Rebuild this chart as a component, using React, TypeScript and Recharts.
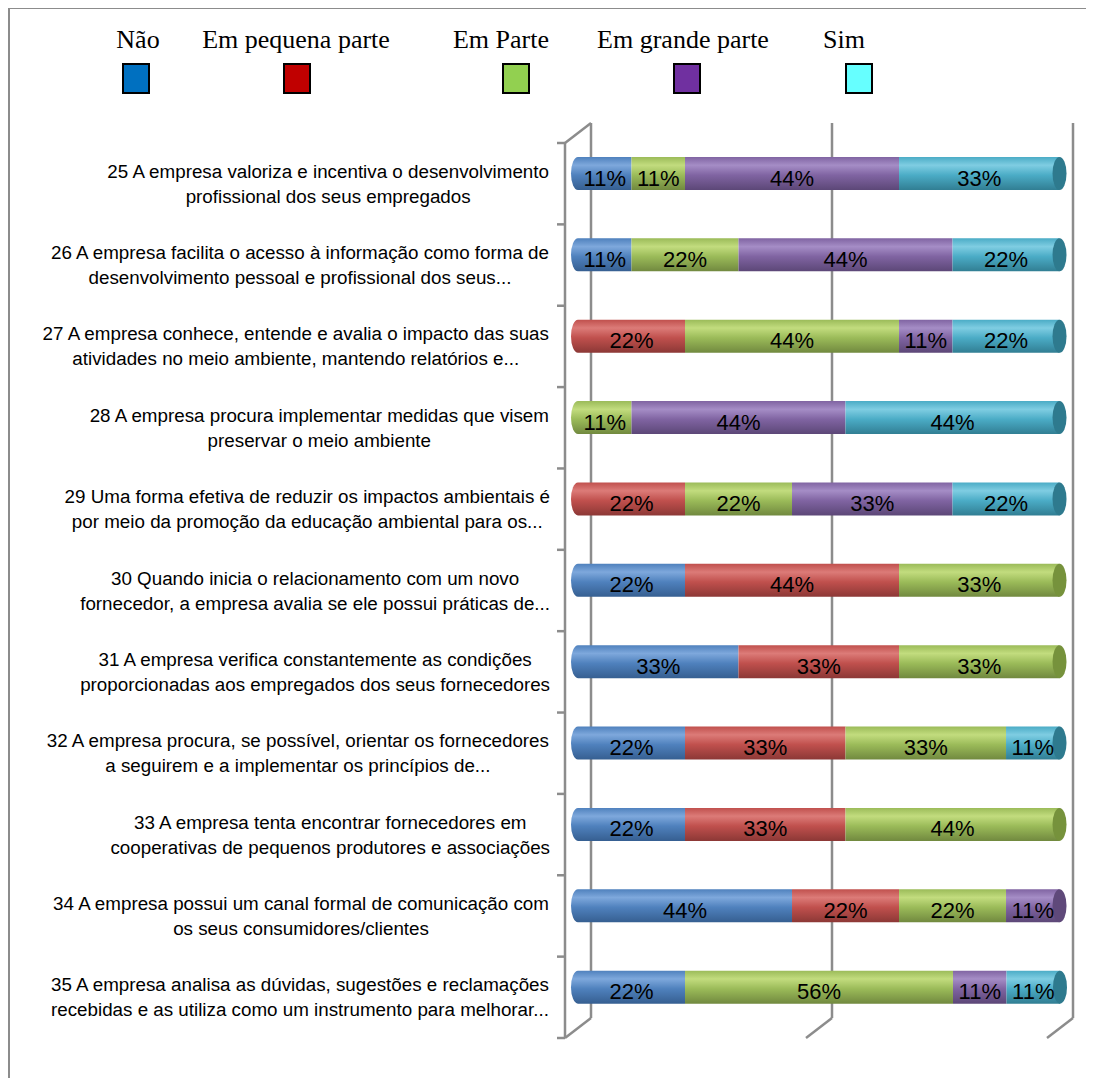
import React from "react";
import { BarChart, Bar, XAxis, YAxis, LabelList, Customized } from "recharts";

// Survey items (two lines each, as printed in the chart)
const CATEGORIES = [
  "25 A empresa valoriza e incentiva o desenvolvimento\nprofissional dos seus empregados",
  "26 A empresa facilita o acesso à informação como forma de\ndesenvolvimento pessoal e profissional dos seus...",
  "27 A empresa conhece, entende e avalia o impacto das suas\natividades no meio ambiente, mantendo relatórios e...",
  "28 A empresa procura implementar medidas que visem\npreservar o meio ambiente",
  "29 Uma forma efetiva de reduzir os impactos ambientais é\npor meio da promoção da educação ambiental para os...",
  "30 Quando inicia o relacionamento com um novo\nfornecedor, a empresa avalia se ele possui práticas de...",
  "31 A empresa verifica constantemente as condições\nproporcionadas aos empregados dos seus fornecedores",
  "32 A empresa procura, se possível, orientar os fornecedores\na seguirem e a implementar os princípios de...",
  "33 A empresa tenta encontrar fornecedores em\ncooperativas de pequenos produtores e associações",
  "34 A empresa possui um canal formal de comunicação com\nos seus consumidores/clientes",
  "35 A empresa analisa as dúvidas, sugestões e reclamações\nrecebidas e as utiliza como um instrumento para melhorar...",
];

// percentages per answer
const NAO = [11.1, 11.1, 0, 0, 0, 22.2, 33.3, 22.2, 22.2, 44.4, 22.2];
const PEQUENA = [0, 0, 22.2, 0, 22.2, 44.4, 33.3, 33.3, 33.3, 22.2, 0];
const PARTE = [11.1, 22.2, 44.4, 11.1, 22.2, 33.3, 33.3, 33.3, 44.4, 22.2, 55.6];
const GRANDE = [44.4, 44.4, 11.1, 44.4, 33.3, 0, 0, 0, 0, 11.1, 11.1];
const SIM = [33.3, 22.2, 22.2, 44.4, 22.2, 0, 0, 11.1, 0, 0, 11.1];

const GRID_TICKS = [0, 50, 100];

const SERIES = [
  { key: "nao", name: "Não", values: NAO, light: "#7ea8dc", base: "#4f81bd", dark: "#365f91", cap: "#385d8a", legend: "#0070c0" },
  { key: "pequena", name: "Em pequena parte", values: PEQUENA, light: "#dc7b78", base: "#c0504d", dark: "#8c3836", cap: "#8c3836", legend: "#c00000" },
  { key: "parte", name: "Em Parte", values: PARTE, light: "#c2dc7e", base: "#9bbb59", dark: "#71893f", cap: "#76923c", legend: "#92d050" },
  { key: "grande", name: "Em grande parte", values: GRANDE, light: "#a58dc6", base: "#8064a2", dark: "#5c4777", cap: "#5f497a", legend: "#7030a0" },
  { key: "sim", name: "Sim", values: SIM, light: "#7fcde2", base: "#4bacc6", dark: "#317e93", cap: "#2e7a8e", legend: "#66ffff" },
];

const data = CATEGORIES.map((name, i) => {
  const row: Record<string, any> = { name };
  SERIES.forEach((s) => {
    row[s.key] = s.values[i];
  });
  return row;
});

// layout
const W = 1078;
const H = 1070;
const MARGIN = { top: 125, right: 26, bottom: 50, left: 10 };
const YAXIS_W = 560;
const PLOT_L = MARGIN.left + YAXIS_W;
const PLOT_W = W - PLOT_L - MARGIN.right;
const PLOT_T = MARGIN.top;
const PLOT_H = H - MARGIN.top - MARGIN.bottom;
const DX = 13; // 3d depth
const DY = 10;
const LINE = "#8c8c8c";

// legend placement (text center / box left)
const LEGEND_POS = [
  { text: 130, box: 114 },
  { text: 288, box: 275 },
  { text: 493, box: 494 },
  { text: 675, box: 665 },
  { text: 836, box: 837 },
];

let ctx: CanvasRenderingContext2D | null = null;
function textWidth(s: string, font: string) {
  if (!ctx) ctx = document.createElement("canvas").getContext("2d");
  if (!ctx) return s.length * 9;
  ctx.font = font;
  return ctx.measureText(s).width;
}

const CAT_FONT = "18.8px 'Liberation Sans', Arial, sans-serif";

function CatTick(props: any) {
  const { y, payload } = props;
  const lines: string[] = String(payload.value).split("\n");
  const maxW = Math.max(...lines.map((l) => textWidth(l, CAT_FONT)));
  const right = 542;
  const cx = right - maxW / 2;
  const yc = y + DY;
  return (
    <g>
      {lines.map((l, i) => (
        <text
          key={i}
          x={cx}
          y={yc - 6 + i * 25}
          textAnchor="middle"
          style={{ font: CAT_FONT }}
          fill="#000"
        >
          {l}
        </text>
      ))}
    </g>
  );
}

function makeShape(idx: number) {
  const s = SERIES[idx];
  return (props: any) => {
    const { x, y, width, height, payload } = props;
    if (!width || width <= 0) return null;
    const first = SERIES.slice(0, idx).every((o) => !payload[o.key]);
    const last = SERIES.slice(idx + 1).every((o) => !payload[o.key]);
    const rx = 7;
    const ry = height / 2;
    const d = first
      ? `M${x},${y} L${x + width},${y} L${x + width},${y + height} L${x},${y + height} A${rx},${ry} 0 0 1 ${x},${y} Z`
      : `M${x},${y} L${x + width},${y} L${x + width},${y + height} L${x},${y + height} Z`;
    return (
      <g>
        <path d={d} fill={`url(#grad-${s.key})`} />
        {last && (
          <ellipse cx={x + width} cy={y + ry} rx={rx} ry={ry} fill={s.cap} />
        )}
      </g>
    );
  };
}

function renderLabel(props: any) {
  const { x, y, width, height, value } = props;
  if (!value) return null;
  return (
    <text
      x={x + width / 2}
      y={y + height / 2 + 12}
      textAnchor="middle"
      style={{ font: "22px 'Liberation Sans', Arial, sans-serif" }}
      fill="#000"
    >
      {Math.round(value)}%
    </text>
  );
}

function FrameLines() {
  const band = PLOT_H / CATEGORIES.length;
  const bottom = PLOT_T + PLOT_H;
  return (
    <g stroke={LINE} strokeWidth={2.5} fill="none">
      {/* back wall gridlines */}
      {GRID_TICKS.map((t) => {
        const gx = PLOT_L + (t / 100) * PLOT_W + DX;
        return (
          <g key={t}>
            <line x1={gx} y1={PLOT_T - DY} x2={gx} y2={bottom - DY} />
            <line x1={gx} y1={bottom - DY} x2={gx - 2 * DX} y2={bottom + DY} />
          </g>
        );
      })}
      {/* front category axis */}
      <line x1={PLOT_L - DX} y1={PLOT_T + DY} x2={PLOT_L - DX} y2={bottom + DY} />
      <line x1={PLOT_L - DX} y1={PLOT_T + DY} x2={PLOT_L + DX} y2={PLOT_T - DY} />
      {CATEGORIES.map((_, i) => (
        <line
          key={i}
          x1={PLOT_L - DX - 8}
          y1={PLOT_T + DY + i * band}
          x2={PLOT_L - DX}
          y2={PLOT_T + DY + i * band}
        />
      ))}
      <line x1={PLOT_L - DX - 8} y1={bottom + DY} x2={PLOT_L - DX} y2={bottom + DY} />
    </g>
  );
}

export default function App() {
  return (
    <div style={{ position: "relative", width: W, height: H, background: "#fff" }}>
      {/* outer frame */}
      <div style={{ position: "absolute", left: -1, top: -1, width: 3, height: H + 9, background: LINE }} />
      <div style={{ position: "absolute", left: -1, top: -1, width: W + 9, height: 2, background: LINE }} />

      {/* legend */}
      {SERIES.map((s, i) => (
        <React.Fragment key={s.key}>
          <div
            style={{
              position: "absolute",
              left: LEGEND_POS[i].text - 150,
              width: 300,
              top: 17,
              textAlign: "center",
              fontFamily: "'Liberation Serif', 'Times New Roman', serif",
              fontSize: 26,
              lineHeight: "30px",
              color: "#000",
            }}
          >
            {s.name}
          </div>
          <div
            style={{
              position: "absolute",
              left: LEGEND_POS[i].box,
              top: 55,
              width: 24,
              height: 27,
              background: s.legend,
              border: "2px solid #000",
            }}
          />
        </React.Fragment>
      ))}

      <BarChart
        width={W}
        height={H}
        data={data}
        layout="vertical"
        margin={MARGIN}
        barSize={33}
      >
        <defs>
          {SERIES.map((s) => (
            <linearGradient key={s.key} id={`grad-${s.key}`} x1="0" y1="0" x2="0" y2="1">
              <stop offset="0%" stopColor={s.base} />
              <stop offset="25%" stopColor={s.light} />
              <stop offset="55%" stopColor={s.base} />
              <stop offset="100%" stopColor={s.dark} />
            </linearGradient>
          ))}
        </defs>
        <Customized component={<FrameLines />} />
        <XAxis type="number" domain={[0, 100]} hide />
        <YAxis
          type="category"
          dataKey="name"
          width={YAXIS_W}
          axisLine={false}
          tickLine={false}
          interval={0}
          tick={<CatTick />}
        />
        {SERIES.map((s, i) => (
          <Bar
            key={s.key}
            dataKey={s.key}
            name={s.name}
            stackId="a"
            fill={s.base}
            shape={makeShape(i)}
            isAnimationActive={false}
          >
            <LabelList dataKey={s.key} content={renderLabel} />
          </Bar>
        ))}
      </BarChart>
    </div>
  );
}
